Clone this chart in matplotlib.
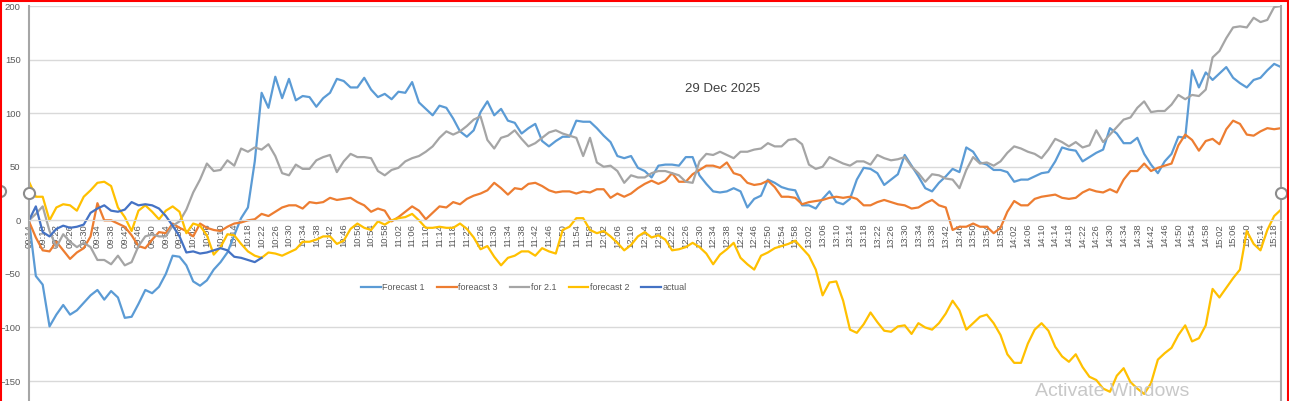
import numpy as np
import pandas as pd
import matplotlib
matplotlib.use("Agg")
import matplotlib.pyplot as plt
from matplotlib.lines import Line2D

# one sample every 2 minutes, 09:14 -> 15:20
times = pd.date_range("2025-12-29 09:14", periods=184, freq="2min").strftime("%H:%M").tolist()

forecast1 = [0, -52, -60, -99, -88, -79, -88, -84, -77, -70,
             -65, -74, -66, -72, -91, -90, -78, -65, -68, -62,
             -50, -33, -34, -42, -57, -61, -56, -46, -39, -30,
             -14, 2, 12, 55, 119, 105, 134, 114, 132, 112,
             116, 115, 106, 114, 119, 132, 130, 124, 124, 133,
             122, 115, 118, 113, 120, 119, 129, 110, 104, 98,
             107, 105, 95, 83, 78, 84, 101, 111, 98, 104,
             93, 91, 81, 86, 90, 74, 69, 74, 78, 78,
             93, 92, 92, 86, 79, 73, 60, 58, 60, 49,
             46, 40, 51, 52, 52, 51, 59, 59, 42, 34,
             27, 26, 27, 30, 27, 12, 20, 23, 38, 35,
             31, 29, 28, 14, 14, 11, 20, 27, 17, 15,
             20, 38, 49, 48, 44, 33, 38, 43, 61, 51,
             41, 30, 27, 35, 41, 48, 45, 68, 64, 54,
             52, 47, 47, 45, 36, 38, 38, 41, 44, 45,
             55, 68, 66, 65, 55, 59, 63, 66, 86, 81,
             72, 72, 77, 62, 52, 44, 55, 62, 78, 77,
             140, 124, 138, 131, 137, 143, 133, 128, 124, 131,
             133, 140, 146, 143]

forecast3 = [-1, -16, -28, -29, -20, -28, -36, -30, -26, -15,
             16, 0, 0, -3, -6, -14, -24, -26, -18, -11,
             -12, -3, -7, -10, -15, -3, -7, -9, -10, -6,
             -3, -2, 0, 1, 6, 4, 8, 12, 14, 14,
             11, 17, 16, 17, 21, 19, 20, 21, 17, 14,
             8, 11, 9, -1, 3, 8, 13, 9, 1, 7,
             13, 12, 17, 15, 20, 23, 25, 28, 35, 30,
             24, 30, 29, 34, 35, 32, 28, 26, 27, 27,
             25, 27, 26, 29, 29, 21, 25, 22, 25, 30,
             34, 37, 34, 37, 44, 36, 36, 43, 47, 51,
             51, 49, 54, 44, 42, 35, 33, 34, 37, 31,
             22, 22, 21, 15, 17, 18, 19, 21, 22, 21,
             22, 20, 14, 14, 17, 19, 17, 15, 14, 11,
             12, 16, 19, 14, 12, -9, -6, -6, -3, -6,
             -6, -12, -7, 8, 18, 14, 14, 20, 22, 23,
             24, 21, 20, 21, 26, 29, 27, 26, 29, 26,
             38, 46, 46, 53, 46, 49, 51, 53, 70, 80,
             75, 65, 74, 76, 71, 85, 93, 90, 80, 79,
             83, 86, 85, 86]

for21 = [0, 6, 13, -10, -25, -13, -20, -25, -21, -25,
         -37, -37, -41, -33, -42, -39, -24, -15, -13, -15,
         -15, -5, -1, 10, 26, 38, 53, 46, 47, 56,
         51, 67, 64, 68, 66, 71, 60, 44, 42, 52,
         48, 48, 56, 59, 61, 45, 55, 62, 59, 59,
         58, 46, 42, 47, 49, 55, 58, 60, 64, 69,
         77, 83, 80, 83, 88, 94, 97, 75, 67, 77,
         79, 84, 76, 69, 72, 77, 82, 84, 81, 79,
         77, 60, 77, 54, 50, 51, 46, 35, 42, 40,
         40, 44, 46, 46, 44, 42, 36, 35, 55, 62,
         61, 64, 61, 58, 64, 64, 66, 67, 72, 69,
         69, 75, 76, 71, 52, 48, 50, 59, 56, 53,
         51, 55, 55, 52, 61, 58, 56, 57, 59, 50,
         44, 36, 43, 42, 39, 38, 30, 47, 59, 53,
         54, 51, 55, 63, 69, 67, 64, 62, 58, 66,
         76, 73, 69, 73, 68, 70, 84, 73, 80, 87,
         94, 96, 105, 111, 101, 102, 102, 108, 117, 113,
         117, 116, 122, 152, 158, 170, 180, 181, 180, 189,
         185, 187, 199, 200]

forecast2 = [36, 22, 22, 0, 12, 15, 14, 9, 22, 28,
             35, 36, 32, 12, 3, -10, 9, 14, 8, 1,
             9, 13, 8, -12, -3, -5, -14, -32, -25, -13,
             -14, -22, -29, -33, -35, -30, -31, -33, -30, -27,
             -20, -20, -18, -15, -15, -22, -19, -8, -3, -7,
             -9, -1, -4, 0, 2, 3, 6, 0, -7, -7,
             -6, -7, -7, -3, -8, -16, -27, -24, -34, -42,
             -35, -33, -29, -29, -33, -26, -29, -31, -9, -6,
             2, 2, -9, -12, -10, -15, -21, -28, -23, -15,
             -11, -16, -14, -18, -28, -27, -25, -21, -25, -31,
             -41, -32, -27, -21, -35, -41, -46, -33, -30, -26,
             -24, -22, -19, -26, -33, -46, -70, -58, -57, -75,
             -102, -105, -97, -86, -95, -103, -104, -99, -98, -106,
             -96, -100, -102, -96, -87, -75, -84, -102, -96, -90,
             -88, -96, -107, -125, -133, -133, -115, -102, -96, -103,
             -118, -127, -132, -125, -137, -146, -149, -157, -160, -145,
             -138, -151, -157, -162, -152, -130, -124, -119, -107, -98,
             -113, -110, -98, -64, -72, -63, -54, -46, -10, -22,
             -28, -9, 4, 10]

# actual only runs until ~10:22
actual = [0, 13, -11, -15, -8, -5, -7, -6, -4, 7,
          11, 14, 9, 8, 10, 17, 14, 15, 14, 11,
          4, -5, -15, -30, -29, -31, -30, -28, -26, -28,
          -34, -35, -37, -39, -35]

series = [
    ("Forecast 1", forecast1, "#5B9BD5"),
    ("foreacst 3", forecast3, "#ED7D31"),
    ("for 2.1", for21, "#A5A5A5"),
    ("forecast 2", forecast2, "#FFC000"),
    ("actual", actual, "#4472C4"),
]

W, H = 1289, 401
fig = plt.figure(figsize=(W / 100, H / 100), dpi=100)
ax = fig.add_axes([29 / W, 0, (1281 - 29) / W, (H - 6) / H])

# spines first: moving a spine resets the tick labels
ax.spines["top"].set_visible(False)
ax.spines["bottom"].set_position(("data", 0))
ax.spines["bottom"].set_color("#D9D9D9")
ax.spines["left"].set_color("#A6A6A6")
ax.spines["left"].set_linewidth(1.5)
ax.spines["right"].set_color("#A6A6A6")
ax.spines["right"].set_linewidth(1.5)

x = np.arange(len(times))
for name, vals, col in series:
    ax.plot(x[:len(vals)], vals, color=col, lw=1.6, label=name, solid_joinstyle="round")

ax.set_xlim(0, len(times) - 1)
ax.set_ylim(-168.6, 200)
ax.set_yticks(range(-150, 201, 50))
ax.yaxis.grid(True, color="#D9D9D9", lw=1)
ax.set_axisbelow(True)

ax.set_xticks(x[::2])
ax.set_xticklabels(times[::2])
ax.tick_params(axis="x", length=0, pad=2.5, labelrotation=90,
               labelsize=6.8, labelcolor="#595959")
ax.tick_params(axis="y", length=0, pad=6, labelsize=6.8, labelcolor="#595959")
for lab in ax.get_xticklabels() + ax.get_yticklabels():
    lab.set_family("Liberation Sans")

leg = ax.legend(loc="center", bbox_to_anchor=(524 / W, 1 - 288 / H),
                bbox_transform=fig.transFigure, ncol=5, frameon=False,
                prop={"family": "Liberation Sans", "size": 6.5},
                handlelength=2.2, handletextpad=0.2, columnspacing=1.3)
for t in leg.get_texts():
    t.set_color("#595959")

fig.text(723 / W, 1 - 89 / H, "29 Dec 2025", ha="center", va="center",
         fontsize=9.5, color="#404040", family="Liberation Sans")

fig.text(1112 / W, 1 - 391 / H, "Activate Windows", ha="center", va="center",
         fontsize=14, color="#C8C8C8", family="Liberation Sans")

# selection handles of the plot area
for hx, hy in [(0, 191), (28.5, 193), (1281, 193)]:
    fig.add_artist(Line2D([hx / W], [1 - hy / H], transform=fig.transFigure,
                          marker="o", ms=8, mfc="white", mec="#8C8C8C", mew=1.5))

# red frame round the screenshot
red = dict(transform=fig.transFigure, color="red", lw=1.5)
fig.add_artist(Line2D([0.5 / W, 0.5 / W], [0, 1], **red))
fig.add_artist(Line2D([0, 1], [1 - 0.5 / H, 1 - 0.5 / H], **red))
fig.add_artist(Line2D([1288.3 / W, 1288.3 / W], [0, 1], **red))

fig.savefig("out.png", dpi=100)
